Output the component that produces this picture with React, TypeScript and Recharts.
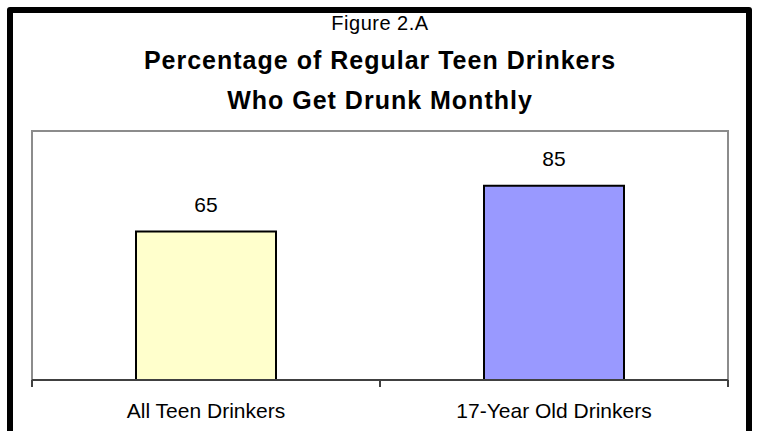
import { BarChart, Bar, XAxis, YAxis, ReferenceArea, LabelList, Cell } from "recharts";

const categories = ["All Teen Drinkers", "17-Year Old Drinkers"];
const percentages = [65, 85];
const barColors = ["#FFFFCC", "#9999FF"];
const yDomain = [0, 109];

const data = categories.map((name, i) => ({ name, value: percentages[i] }));

const FONT = '"Liberation Sans", Arial, sans-serif';

function CategoryTick(props: any) {
  const { x, y, payload, index, visibleTicksCount } = props;
  const half = payload?.offset ?? 0;
  const isLast = index === (visibleTicksCount ?? categories.length) - 1;
  return (
    <g>
      <line x1={x - half} y1={y} x2={x - half} y2={y + 7} stroke="#404040" strokeWidth={2} />
      {isLast && (
        <line x1={x + half} y1={y} x2={x + half} y2={y + 7} stroke="#404040" strokeWidth={2} />
      )}
      <text x={x} y={y + 38} textAnchor="middle" fontFamily={FONT} fontSize={21} fill="#000">
        {payload.value}
      </text>
    </g>
  );
}

export default function App() {
  return (
    <div
      style={{
        position: "absolute",
        left: 0,
        top: 0,
        width: 759,
        height: 431,
        background: "#fff",
        overflow: "hidden",
      }}
    >
      <div
        style={{
          position: "absolute",
          left: 7,
          top: 7,
          width: 733,
          height: 440,
          border: "6px solid #000",
          borderRadius: 3,
        }}
      />
      <svg
        width={759}
        height={431}
        style={{ position: "absolute", left: 0, top: 0, pointerEvents: "none" }}
      >
        <text x={380} y={30} textAnchor="middle" fontFamily={FONT} fontSize={20} letterSpacing={0.5} fill="#000">
          Figure 2.A
        </text>
        <text x={380} y={69} textAnchor="middle" fontFamily={FONT} fontSize={25} fontWeight="bold" letterSpacing={1} fill="#000">
          Percentage of Regular Teen Drinkers
        </text>
        <text x={380} y={109} textAnchor="middle" fontFamily={FONT} fontSize={25} fontWeight="bold" letterSpacing={1} fill="#000">
          Who Get Drunk Monthly
        </text>
      </svg>
      <div style={{ position: "absolute", left: 0, top: 0 }}>
        <BarChart
          width={759}
          height={431}
          data={data}
          margin={{ top: 131, right: 31, left: 32, bottom: 0 }}
          barCategoryGap={104}
        >
          <YAxis hide domain={yDomain} />
          <ReferenceArea
            y1={yDomain[0]}
            y2={yDomain[1]}
            fill="none"
            stroke="#8c8c8c"
            strokeWidth={2}
            ifOverflow="visible"
          />
          <XAxis
            dataKey="name"
            height={51}
            axisLine={{ stroke: "#404040", strokeWidth: 2 }}
            tickLine={false}
            tickSize={0}
            tickMargin={0}
            tick={<CategoryTick />}
            interval={0}
          />
          <Bar dataKey="value" stroke="#000" strokeWidth={2} isAnimationActive={false}>
            {data.map((d, i) => (
              <Cell key={d.name} fill={barColors[i]} />
            ))}
            <LabelList
              dataKey="value"
              position="top"
              offset={20}
              fontFamily={FONT}
              fontSize={21}
              fill="#000"
            />
          </Bar>
        </BarChart>
      </div>
    </div>
  );
}
